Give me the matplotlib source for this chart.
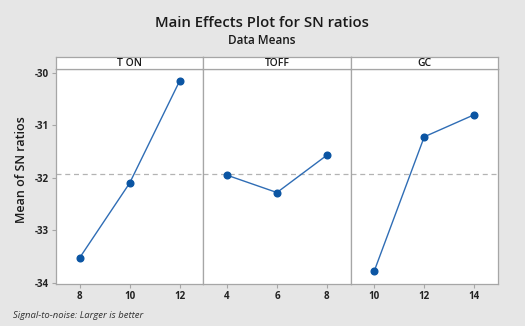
import matplotlib.pyplot as plt
import numpy as np
from matplotlib.patches import Rectangle

plt.rcParams['font.family'] = ['Open Sans', 'DejaVu Sans']

# data
factors = ['T ON', 'TOFF', 'GC']
levels_ton = [8, 10, 12]
levels_toff = [4, 6, 8]
levels_gc = [10, 12, 14]
sn_ton = [-33.52, -32.10, -30.16]
sn_toff = [-31.95, -32.28, -31.57]
sn_gc = [-33.77, -31.22, -30.80]

levels = [levels_ton, levels_toff, levels_gc]
means = [sn_ton, sn_toff, sn_gc]
grand_mean = np.mean(sn_ton + sn_toff + sn_gc)

W, H = 525, 330
fig = plt.figure(figsize=(W / 100, H / 100), dpi=100)
fig.patch.set_facecolor('#e6e6e6')
# white strip at the very bottom of the image
fig.add_artist(Rectangle((0, 0), 1, 4 / H, transform=fig.transFigure,
                         facecolor='white', edgecolor='none'))

fig.text(262 / W, 1 - 23 / H, 'Main Effects Plot for SN ratios',
         ha='center', va='center', fontsize=10.7, fontweight='semibold',
         color='#1a1a1a')
fig.text(262 / W, 1 - 40 / H, 'Data Means',
         ha='center', va='center', fontsize=8.5, fontweight='semibold',
         color='#1a1a1a')
fig.text(22 / W, 1 - 170 / H, 'Mean of SN ratios', rotation=90,
         ha='center', va='center', fontsize=9, fontweight='semibold',
         color='#1a1a1a')
fig.text(13 / W, 1 - 316 / H, 'Signal-to-noise: Larger is better',
         ha='left', va='center', fontsize=6.8, style='italic', color='#333333')

x0 = 56
pw = 147.3
top, bot = 69, 284
strip_h = 12
edge = '#a6a6a6'

for i in range(3):
    left = (x0 + i * pw) / W
    ax = fig.add_axes([left, 1 - bot / H, pw / W, (bot - top) / H])
    ax.set_facecolor('white')
    xs = levels[i]
    step = xs[1] - xs[0]
    ax.set_xlim(xs[0] - 0.475 * step, xs[-1] + 0.475 * step)
    ax.set_ylim(-34.02, -29.93)
    ax.axhline(grand_mean, color='#b3b3b3', lw=0.9, ls=(0, (4, 3)), zorder=1)
    ax.plot(xs, means[i], color='#2f6db5', lw=1.0, marker='o',
            markersize=4.8, markerfacecolor='#0b55a3',
            markeredgecolor='#0b55a3', zorder=3)
    ax.set_xticks(xs)
    ax.set_xticklabels([str(v) for v in xs])
    for s in ax.spines.values():
        s.set_color(edge)
        s.set_linewidth(0.9)
    ax.tick_params(axis='both', colors=edge, length=3, width=0.8,
                   labelsize=7, labelcolor='#222222', pad=2)
    if i == 0:
        ax.set_yticks([-34, -33, -32, -31, -30])
        ax.set_yticklabels(['-34', '-33', '-32', '-31', '-30'])
    else:
        ax.set_yticks([])
    for lab in ax.get_xticklabels() + ax.get_yticklabels():
        lab.set_fontweight('bold')

    # strip header
    sax = fig.add_axes([left, 1 - top / H, pw / W, strip_h / H])
    sax.set_facecolor('white')
    sax.set_xticks([])
    sax.set_yticks([])
    for s in sax.spines.values():
        s.set_color(edge)
        s.set_linewidth(0.9)
    sax.text(0.5, 0.45, factors[i], transform=sax.transAxes, ha='center',
             va='center', fontsize=7.5, fontweight='semibold', color='#1a1a1a')

fig.savefig('out.png', dpi=100, facecolor=fig.get_facecolor())
